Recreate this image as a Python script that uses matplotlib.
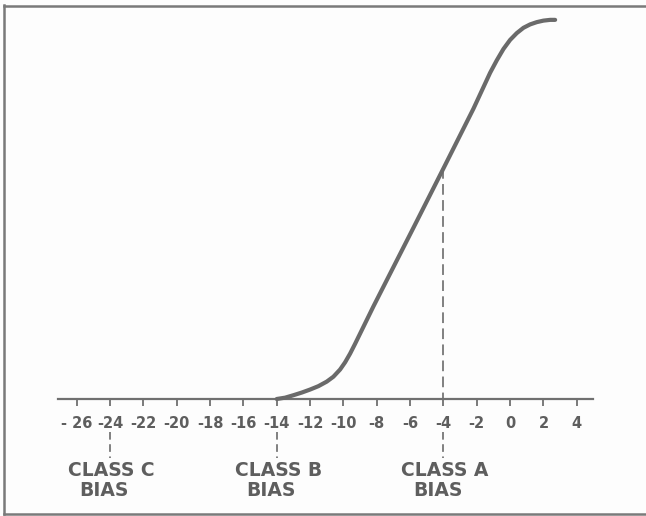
import matplotlib
matplotlib.use("Agg")
import matplotlib.pyplot as plt
from matplotlib.lines import Line2D

# Grid bias (volts) vs plate current (relative)
grid_bias = [-14.0, -13.5, -13.0, -12.5, -12.0, -11.5, -11.0, -10.6, -10.2, -9.9,
             -9.6, -9.3, -9.0, -8.2, -5.8, -4.0, -2.2, -1.6, -1.2, -0.8,
             -0.4, 0.0, 0.4, 0.8, 1.2, 1.6, 2.0, 2.4, 2.7]
plate_current = [0.0, 0.35, 1.0, 1.7, 2.5, 3.4, 4.6, 5.9, 7.8, 9.7,
                 12.0, 14.6, 17.3, 24.5, 45.3, 61.0, 76.8, 82.5, 86.3, 89.6,
                 92.6, 95.0, 96.8, 98.2, 99.1, 99.7, 100.1, 100.3, 100.3]

tick_values = [-26, -24, -22, -20, -18, -16, -14, -12, -10, -8, -6, -4, -2, 0, 2, 4]
tick_labels = ["- 26", "-24", "-22", "-20", "-18", "-16", "-14", "-12", "-10",
               "-8", "-6", "-4", "-2", "0", "2", "4"]

class_bias = [-24, -14, -4]
class_names = ["CLASS C", "CLASS B", "CLASS A"]
class_a_current = 61.0

ink = "#5e5e5e"
W, H = 646, 516
fig = plt.figure(figsize=(W / 100, H / 100), dpi=100, facecolor="#fdfdfd")
ax = fig.add_axes([0, 0, 1, 1])
ax.set_facecolor("#fdfdfd")

px_per_x = 16.67
px_per_y = 3.78
x_left = -26 - 76.7 / px_per_x
ax.set_xlim(x_left, x_left + W / px_per_x)
axis_py = 399
ax.set_ylim(-(H - axis_py) / px_per_y, axis_py / px_per_y)

# transfer curve
ax.plot(grid_bias, plate_current, color="#6a6a6a", lw=3.0,
        solid_capstyle="round", solid_joinstyle="round", zorder=3)

# Class A dashed drop line
ax.plot([-4, -4], [class_a_current, 0], color=ink, lw=1.1,
        dashes=(7, 3.5), zorder=2)

# axis
for s in ["top", "right", "left"]:
    ax.spines[s].set_visible(False)
ax.spines["bottom"].set_position(("data", 0))
ax.spines["bottom"].set_bounds(-27.1, 5.0)
ax.spines["bottom"].set_color("#707070")
ax.spines["bottom"].set_linewidth(1.6)
ax.set_yticks([])
ax.set_xticks(tick_values)
ax.set_xticklabels(tick_labels, fontsize=10.5, fontweight="bold", color=ink,
                   family="DejaVu Sans")
ax.tick_params(axis="x", direction="out", length=5, width=1.3, color="#707070", pad=7)

# class labels and dashed leaders below the tick labels
for xb, name in zip(class_bias, class_names):
    ax.plot([xb, xb], [-(432 - axis_py) / px_per_y, -(458 - axis_py) / px_per_y],
            color=ink, lw=1.1, dashes=(5, 3))
    ax.text(xb + 0.1, -(470 - axis_py) / px_per_y, name, ha="center", va="center",
            fontsize=13.5, fontweight="bold", color=ink)
    ax.text(xb - 0.35, -(491 - axis_py) / px_per_y, "BIAS", ha="center", va="center",
            fontsize=13.5, fontweight="bold", color=ink)

# scanned frame
fc = "#7a7a7a"
fig.add_artist(Line2D([4 / W, 1], [1 - 5.7 / H, 1 - 5.7 / H], color=fc, lw=1.8,
                      transform=fig.transFigure))
fig.add_artist(Line2D([4 / W, 4 / W], [1 - 5 / H, 1 - 514 / H], color=fc, lw=1.8,
                      transform=fig.transFigure))
fig.add_artist(Line2D([4 / W, 1], [1 - 514 / H, 1 - 514 / H], color=fc, lw=1.8,
                      transform=fig.transFigure))

fig.savefig("out.png", dpi=100, facecolor=fig.get_facecolor())
